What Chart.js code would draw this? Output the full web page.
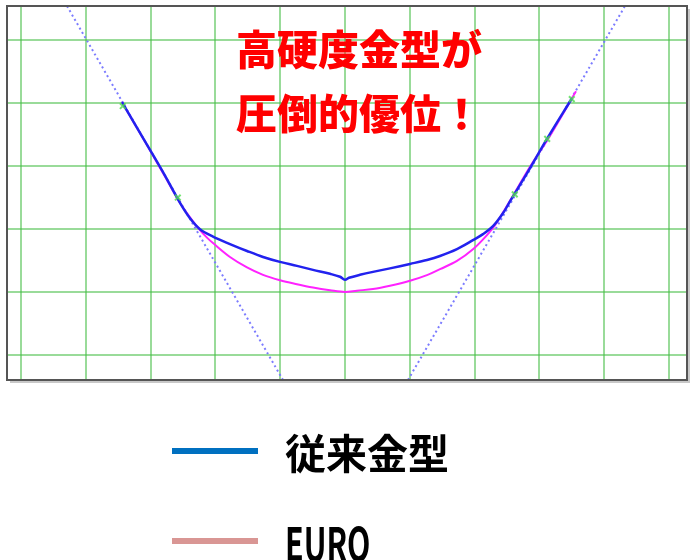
<!DOCTYPE html>
<html>
<head>
<meta charset="utf-8">
<script src="https://cdn.jsdelivr.net/npm/chart.js@4/dist/chart.umd.min.js"></script>
<style>
  body { margin: 0; background: #fff; }
  #wrap { position: relative; width: 696px; height: 560px; overflow: hidden; }
  #chart { position: absolute; left: 0; top: 0; }
  .note {
    position: absolute; left: 236px; top: 15px;
    font-family: 'Noto Sans CJK JP', sans-serif; font-weight: 900;
    font-size: 41px; line-height: 64px; color: #ff0000; white-space: nowrap;
  }
  .legend-row { position: absolute; left: 172px; display: flex; align-items: center; }
  .legend-row .swatch { width: 86px; height: 6px; margin-right: 27px; }
  .legend-row .label {
    font-family: 'Noto Sans CJK JP', sans-serif; font-weight: 700;
    font-size: 41px; color: #000; white-space: nowrap;
  }
</style>
</head>
<body>
<div id="wrap">
  <canvas id="chart" width="696" height="560"></canvas>
  <div class="note">高硬度金型が<br>圧倒的優位！</div>
  <div class="legend-row" style="top:421px;height:60px">
    <div class="swatch" style="background:#0070c0"></div>
    <div class="label">従来金型</div>
  </div>
  <div class="legend-row" style="top:510px;height:62px">
    <div class="swatch" style="background:#d99694"></div>
    <div class="label" style="font-size:46px;transform:scaleX(0.66);transform-origin:left center">EURO</div>
  </div>
</div>
<script>
// 従来金型 (conventional die) profile
const convX = [-3.441, -3.009, -2.778, -2.546, -2.392, -2.238, -2.037, -1.775, -1.512, -1.265, -1.003, -0.741, -0.494, -0.231, -0.077, 0,
  0.062, 0.231, 0.432, 0.694, 1.003, 1.265, 1.466, 1.728, 1.975, 2.130, 2.284, 2.438, 2.546, 2.824, 3.117, 3.503];
const convY = [3.011, 2.256, 1.847, 1.415, 1.171, 0.998, 0.880, 0.763, 0.653, 0.558, 0.480, 0.417, 0.354, 0.291, 0.244, 0.197,
  0.228, 0.275, 0.322, 0.377, 0.448, 0.511, 0.574, 0.684, 0.825, 0.920, 1.046, 1.250, 1.439, 1.910, 2.429, 3.074];

// EURO profile
const euroX = [-3.441, -3.009, -2.778, -2.546, -2.392, -2.238, -2.130, -2.037, -1.775, -1.512, -1.265, -1.003, -0.741, -0.494, -0.231, 0,
  0.185, 0.432, 0.694, 1.003, 1.265, 1.466, 1.728, 1.975, 2.191, 2.315, 2.577, 2.855, 3.148, 3.565];
const euroY = [3.011, 2.248, 1.832, 1.415, 1.187, 0.983, 0.865, 0.778, 0.558, 0.393, 0.275, 0.189, 0.126, 0.074, 0.031, 0.003,
  0.024, 0.050, 0.102, 0.181, 0.270, 0.365, 0.495, 0.679, 0.904, 1.061, 1.502, 1.989, 2.453, 3.184];

// dotted reference lines
const leftRefX = [-4.29, -0.957];
const leftRefY = [4.536, -1.392];
const rightRefX = [0.972, 4.321];
const rightRefY = [-1.392, 4.536];

// measurement marks
const markX = [-3.43, -2.58, 2.62, 3.12, 3.50];
const markY = [2.95, 1.50, 1.55, 2.43, 3.06];

// grid
const xTicks = [-5, -4, -3, -2, -1, 0, 1, 2, 3, 4, 5];
const yTicks = [-1, 0, 1, 2, 3, 4];

const pts = (xs, ys) => xs.map((x, i) => ({ x: x, y: ys[i] }));

const frame = {
  id: 'frame',
  afterDraw(chart) {
    const { ctx, chartArea: a } = chart;
    ctx.save();
    ctx.strokeStyle = '#c8c8c8';
    ctx.lineWidth = 2;
    ctx.beginPath();
    ctx.moveTo(a.right + 2, a.top + 3);
    ctx.lineTo(a.right + 2, a.bottom + 2);
    ctx.lineTo(a.left + 3, a.bottom + 2);
    ctx.stroke();
    ctx.strokeStyle = '#555';
    ctx.lineWidth = 2;
    ctx.strokeRect(a.left, a.top, a.right - a.left, a.bottom - a.top);
    ctx.restore();
  }
};

const gridOpts = { color: 'rgba(70,190,70,0.55)', lineWidth: 2, drawTicks: false };

new Chart(document.getElementById('chart').getContext('2d'), {
  type: 'scatter',
  data: {
    datasets: [
      { label: '従来金型', data: pts(convX, convY), showLine: true, borderColor: '#2222ee', borderWidth: 2.5, pointRadius: 0, tension: 0.35, order: 0 },
      { label: 'EURO', data: pts(euroX, euroY), showLine: true, borderColor: '#ff22ff', borderWidth: 2, pointRadius: 0, tension: 0.35, order: 1 },
      { label: 'marks', data: pts(markX, markY), pointStyle: 'crossRot', pointRadius: 4, borderColor: 'rgba(80,220,80,0.8)', borderWidth: 2, order: -1 },
      { label: 'ref L', data: pts(leftRefX, leftRefY), showLine: true, borderColor: '#7b7bff', borderWidth: 2, borderDash: [2, 3], pointRadius: 0, order: 2 },
      { label: 'ref R', data: pts(rightRefX, rightRefY), showLine: true, borderColor: '#7b7bff', borderWidth: 2, borderDash: [2, 3], pointRadius: 0, order: 2 }
    ]
  },
  options: {
    responsive: false,
    animation: false,
    layout: { padding: { left: 7, top: 3, right: 9, bottom: 180 } },
    plugins: { legend: { display: false }, tooltip: { enabled: false } },
    scales: {
      x: {
        min: -5.216, max: 5.278,
        afterBuildTicks: s => { s.ticks = xTicks.map(v => ({ value: v })); },
        ticks: { display: false },
        grid: gridOpts,
        border: { display: false }
      },
      y: {
        min: -1.392, max: 4.536,
        afterBuildTicks: s => { s.ticks = yTicks.map(v => ({ value: v })); },
        ticks: { display: false },
        grid: gridOpts,
        border: { display: false }
      }
    }
  },
  plugins: [frame]
});
</script>
</body>
</html>
